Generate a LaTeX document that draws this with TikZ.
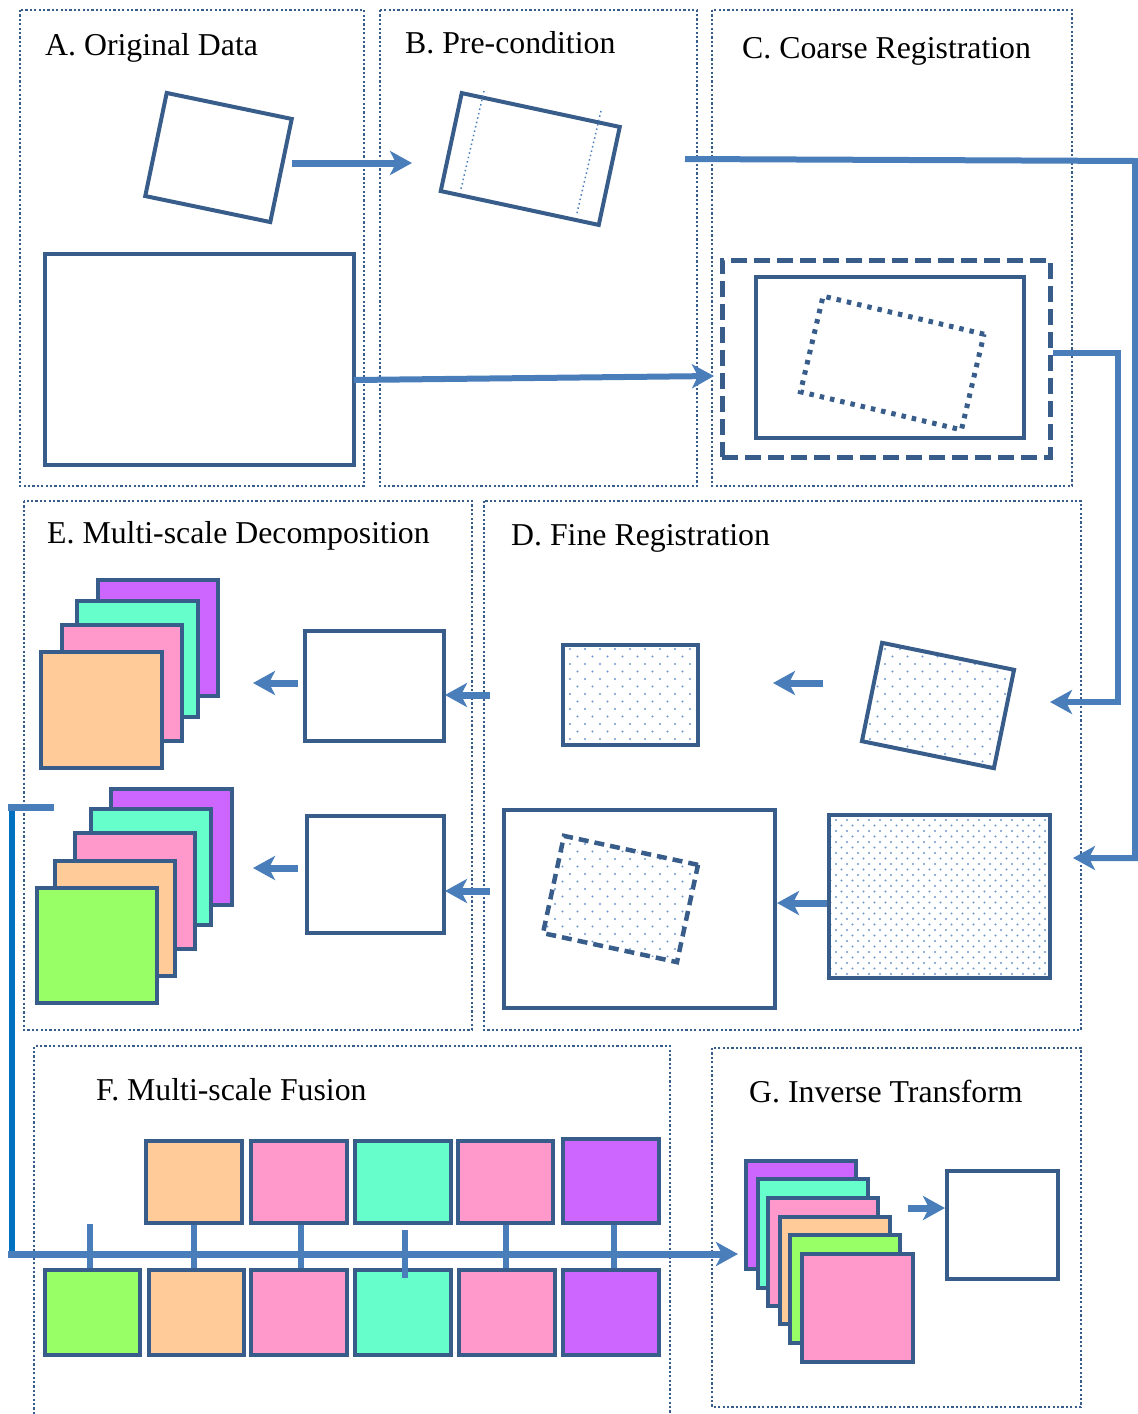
\documentclass[tikz,border=0pt]{standalone}
\usepackage{fontspec}
\setmainfont{Liberation Serif}
\usetikzlibrary{arrows.meta,patterns.meta}

\definecolor{edge}{HTML}{385D8A}
\definecolor{flow}{HTML}{4A7EBB}
\definecolor{speck}{HTML}{6F98CC}
\definecolor{rail}{HTML}{0070C0}
\definecolor{cOrange}{HTML}{FFCC99}
\definecolor{cPink}{HTML}{FF99CC}
\definecolor{cAqua}{HTML}{66FFCC}
\definecolor{cPurple}{HTML}{CC66FF}
\definecolor{cGreen}{HTML}{99FF66}

\tikzset{
  panel/.style={draw=edge, line width=2.4pt, dash pattern=on 2.2pt off 2.2pt},
  title/.style={anchor=base west, inner sep=0pt, font=\fontsize{31.8pt}{36pt}\selectfont},
  box/.style={draw=edge, line width=4pt, inner sep=0pt, shape=rectangle},
  tile/.style={draw=edge, line width=4pt},
  tiptri/.tip={Stealth[length=22pt,width=24pt,inset=6pt]},
  shortarrow/.style={draw=flow, line width=7pt, -tiptri},
  longarrow/.style={draw=flow, line width=6pt, -tiptri},
  sparsedots/.style={pattern={Dots[distance=15pt,radius=1.2pt]}, pattern color=speck,
    preaction={pattern={Dots[distance=15pt,radius=1.2pt,xshift=7.5pt,yshift=7.5pt]}, pattern color=speck}},
  densedots/.style={pattern={Dots[distance=11pt,radius=1.1pt]}, pattern color=speck,
    preaction={pattern={Dots[distance=11pt,radius=1.1pt,xshift=5.5pt,yshift=5.5pt]}, pattern color=speck}},
}

\begin{document}
\begin{tikzpicture}[x=1pt,y=-1pt]
\useasboundingbox (0,0) rectangle (1138,1414);

% ---- panel frames ----
\draw[panel] (20,10) rectangle (364,486);
\draw[panel] (380,10) rectangle (697,486);
\draw[panel] (712,10) rectangle (1072,486);
\draw[panel] (24,501) rectangle (472,1030);
\draw[panel] (484,501) rectangle (1081,1030);
\draw[panel] (34,1414) -- (34,1046) -- (670,1046) -- (670,1414);
\draw[panel] (712,1048) rectangle (1081,1407);

% ---- titles ----
\node[title] (tA) at (45,55) {A. Original Data};
\node[title] (tB) at (405,53) {B. Pre-condition};
\node[title] (tC) at (742,58) {C. Coarse Registration};
\node[title] (tE) at (47,543) {E. Multi-scale Decomposition};
\node[title] (tD) at (511,545) {D. Fine Registration};
\node[title] (tF) at (96,1100) {F. Multi-scale Fusion};
\node[title] (tG) at (749,1102) {G. Inverse Transform};

% ---- A: original data ----
\node[box, minimum width=127.7pt, minimum height=105.3pt, rotate=-11.75] (a1) at (218.5,157.5) {};
\node[box, minimum width=309pt, minimum height=211pt] (a2) at (199.5,359.5) {};

% ---- B: pre-condition ----
\node[box, minimum width=161.6pt, minimum height=100.2pt, rotate=-12.1] (b1) at (530.25,159) {};
\draw[flow, line width=1.5pt, dash pattern=on 1.5pt off 3pt] (484,91) -- (461,189);
\draw[flow, line width=1.5pt, dash pattern=on 1.5pt off 3pt] (601,111) -- (577,213);

% ---- C: coarse registration ----
\node[box, line width=5pt, dash pattern=on 16pt off 7pt, minimum width=328pt, minimum height=197pt] (c1) at (886,358.5) {};
\node[box, minimum width=268pt, minimum height=161pt] (c2) at (890,357.5) {};
\node[box, line width=5pt, dash pattern=on 4.5pt off 6pt, minimum width=165.4pt, minimum height=98.3pt, rotate=-13.3] (c3) at (892.25,363) {};

% ---- D: fine registration ----
\node[box, sparsedots, minimum width=134.7pt, minimum height=100.4pt, rotate=-11.56] (d1) at (938,705.5) {};
\node[box, sparsedots, minimum width=135pt, minimum height=100pt] (d2) at (630.5,695) {};
\node[box, densedots, minimum width=221pt, minimum height=163pt] (d3) at (939.5,896.5) {};
\node[box, minimum width=271pt, minimum height=198pt] (d4) at (639.5,909) {};
\node[box, sparsedots, line width=4.5pt, dash pattern=on 10pt off 6pt, minimum width=137.1pt, minimum height=99.5pt, rotate=-12.2] (d5) at (620.5,899) {};

% ---- E: multi-scale decomposition ----
\node[box, minimum width=139pt, minimum height=110pt] (e1) at (374.5,686) {};
\node[box, minimum width=137pt, minimum height=117pt] (e2) at (375.5,874.5) {};
\draw[tile, fill=cPurple] (98,580) rectangle (218,696);
\draw[tile, fill=cAqua]   (77,601) rectangle (198,717);
\draw[tile, fill=cPink]   (62,625) rectangle (182,741);
\draw[tile, fill=cOrange] (41,652) rectangle (162,768);
\draw[tile, fill=cPurple] (111,789) rectangle (232,905);
\draw[tile, fill=cAqua]   (91,809) rectangle (211,925);
\draw[tile, fill=cPink]   (75,833) rectangle (195,949);
\draw[tile, fill=cOrange] (55,861) rectangle (175,976);
\draw[tile, fill=cGreen]  (37,888) rectangle (157,1003);

% ---- F: multi-scale fusion ----
\node[box, fill=cOrange, minimum width=96pt, minimum height=82pt] (f1) at (194,1182) {};
\node[box, fill=cPink,   minimum width=96pt, minimum height=82pt] (f2) at (299,1182) {};
\node[box, fill=cAqua,   minimum width=96pt, minimum height=82pt] (f3) at (403,1182) {};
\node[box, fill=cPink,   minimum width=95pt, minimum height=82pt] (f4) at (505.5,1182) {};
\node[box, fill=cPurple, minimum width=96pt, minimum height=84pt] (f5) at (611,1181) {};
\node[box, fill=cGreen,  minimum width=95pt, minimum height=85pt] (g1) at (92.5,1312.5) {};
\node[box, fill=cOrange, minimum width=95pt, minimum height=85pt] (g2) at (196.5,1312.5) {};
\node[box, fill=cPink,   minimum width=96pt, minimum height=85pt] (g3) at (299,1312.5) {};
\node[box, fill=cAqua,   minimum width=96pt, minimum height=85pt] (g4) at (403,1312.5) {};
\node[box, fill=cPink,   minimum width=96pt, minimum height=85pt] (g5) at (507,1312.5) {};
\node[box, fill=cPurple, minimum width=96pt, minimum height=85pt] (g6) at (611,1312.5) {};

% ---- G: inverse transform ----
\draw[tile, fill=cPurple] (746,1161) rectangle (856,1269);
\draw[tile, fill=cAqua]   (758,1179) rectangle (868,1288);
\draw[tile, fill=cPink]   (768,1198) rectangle (878,1306);
\draw[tile, fill=cOrange] (780,1217) rectangle (890,1324);
\draw[tile, fill=cGreen]  (790,1235) rectangle (900,1343);
\draw[tile, fill=cPink]   (802,1254) rectangle (913,1362);
\node[box, minimum width=111pt, minimum height=108pt] (h1) at (1002.5,1225) {};

% ---- connector end points ----
\coordinate (aOut)  at (292,163);
\coordinate (bIn)   at (412,163);
\coordinate (a2Out) at (354,380);
\coordinate (cIn)   at (714,376);
\coordinate (bOut)  at (685,159);
\coordinate (bTurn) at (1135,161);
\coordinate (dIn2)  at (1073,858);
\coordinate (cOut)  at (1053,353);
\coordinate (cTurn) at (1118,353);
\coordinate (dIn1)  at (1050,702);
\coordinate (d1Out) at (823,683);
\coordinate (d2In)  at (773,683);
\coordinate (d3Out) at (827,903);
\coordinate (d4In)  at (777,903);
\coordinate (d2Out) at (490,695);
\coordinate (e1In)  at (445,695);
\coordinate (d4Out) at (490,891);
\coordinate (e2In)  at (445,891);
\coordinate (e1Out) at (298,683);
\coordinate (s1In)  at (253,683);
\coordinate (e2Out) at (298,868);
\coordinate (s2In)  at (253,868);
\coordinate (railTop) at (11.5,810);
\coordinate (railBot) at (11.5,1254);
\coordinate (fusEnd)  at (738,1254);
\coordinate (gOut)  at (908,1208);

% ---- connectors ----
\draw[shortarrow] (aOut) -- (bIn);
\draw[longarrow] (a2Out) -- (cIn);
\draw[longarrow] (bOut) -- (bTurn) -- (bTurn |- dIn2) -- (dIn2);
\draw[longarrow] (cOut) -- (cTurn) -- (cTurn |- dIn1) -- (dIn1);
\draw[shortarrow] (d1Out) -- (d2In);
\draw[shortarrow] (d3Out) -- (d4In);
\draw[shortarrow] (d2Out) -- (e1In);
\draw[shortarrow] (d4Out) -- (e2In);
\draw[shortarrow] (e1Out) -- (s1In);
\draw[shortarrow] (e2Out) -- (s2In);
\draw[shortarrow] (gOut) -- (h1.west |- gOut);

% rail from the decomposition stack down to the fusion axis
\draw[rail, line width=6pt] (railTop) -- (railBot);
\draw[flow, line width=7pt] (8,807) -- (54,807);

% fusion axis and its ticks
\draw[flow, line width=6pt] (g1.north) ++(-2.5,0) coordinate (k0) -- (k0 |- 0,1224);
\draw[flow, line width=6pt] (f1.south) -- (f1.south |- g2.north);
\draw[flow, line width=6pt] (f2.south) ++(2,0) coordinate (k2) -- (k2 |- g3.north);
\draw[flow, line width=6pt] (f3.south) ++(2,5) coordinate (k3) -- (k3 |- 0,1278);
\draw[flow, line width=6pt] (f4.south) -- (f4.south |- g5.north);
\draw[flow, line width=6pt] (f5.south) ++(3,0) coordinate (k5) -- (k5 |- g6.north);
\draw[flow, line width=7pt, -tiptri] (8,1254) -- (fusEnd);
\end{tikzpicture}
\end{document}
